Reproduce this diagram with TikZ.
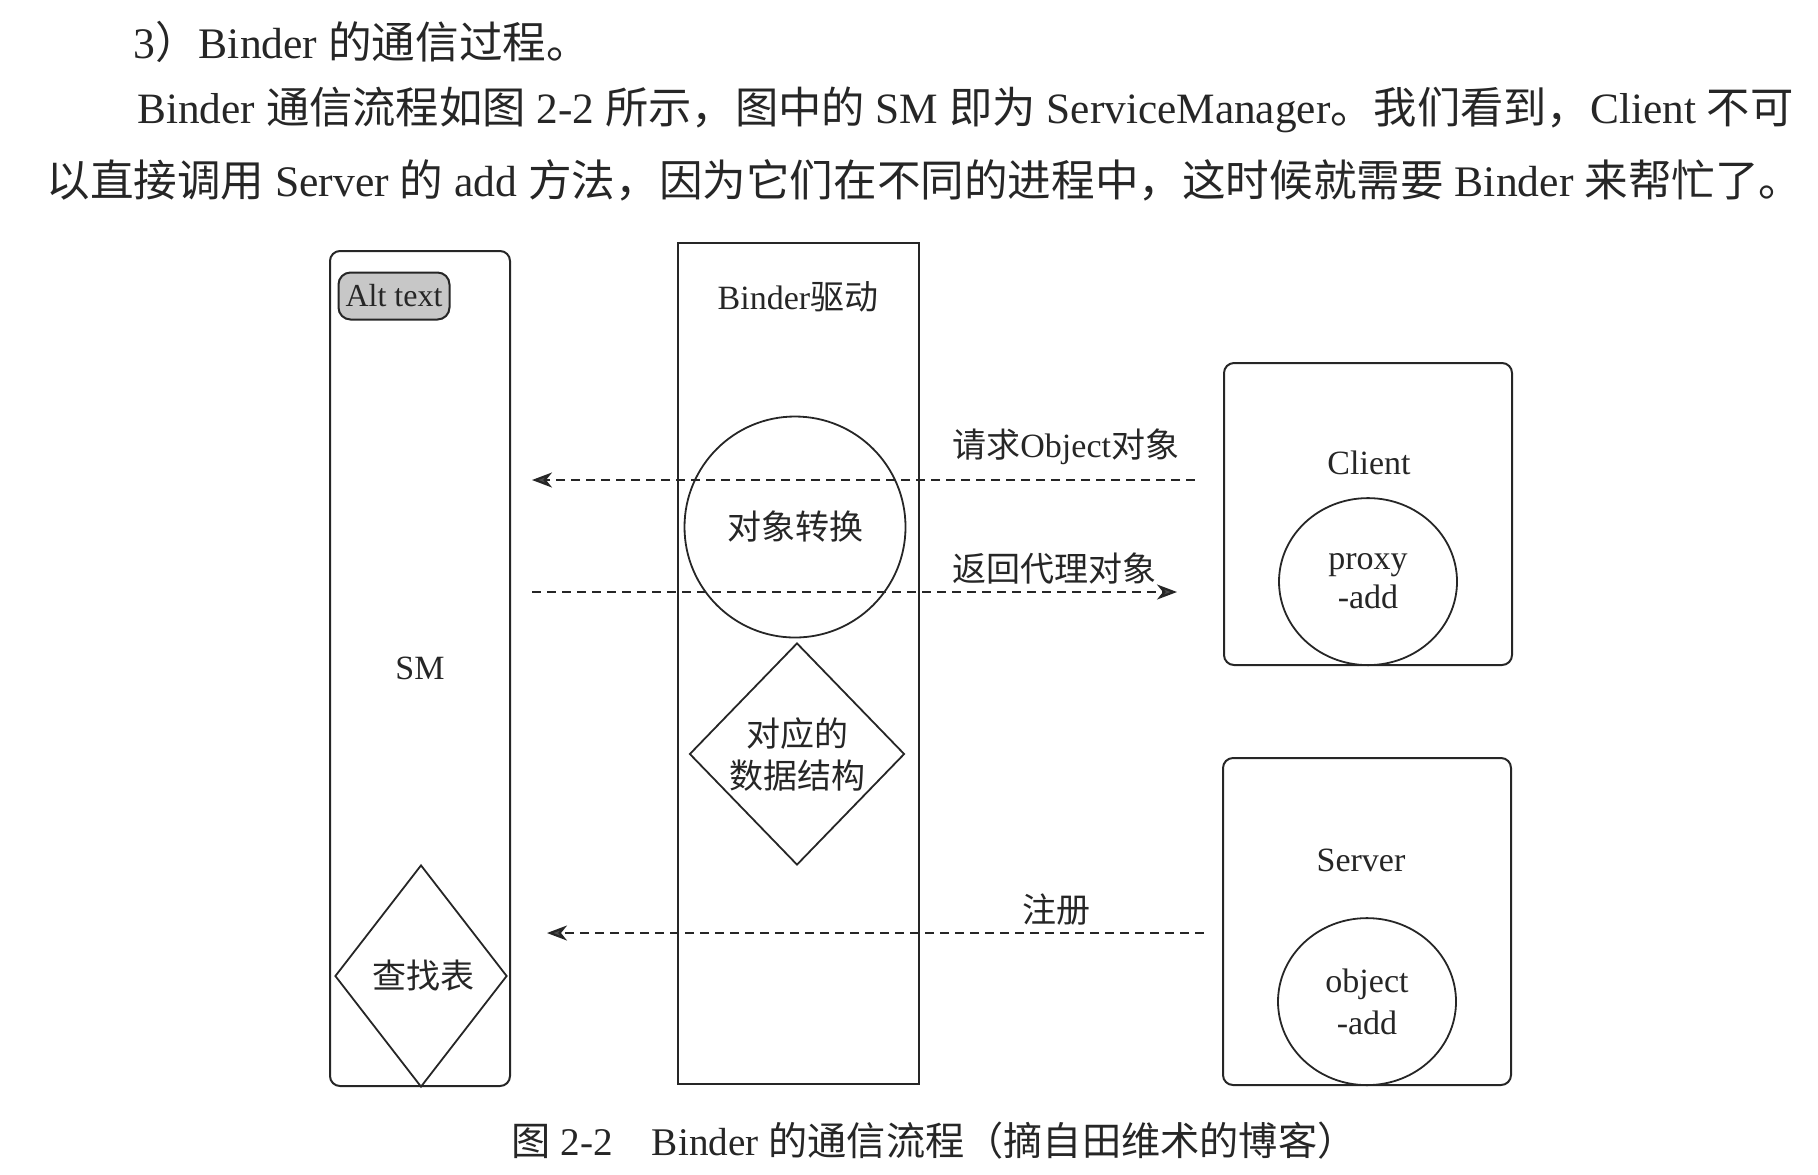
\documentclass[tikz,border=0pt]{standalone}
\usepackage{fontspec}
\setmainfont{Liberation Serif}
\newfontfamily\cjk{Noto Sans CJK SC}
\usepackage{tikz}
\usetikzlibrary{arrows.meta}
\usetikzlibrary{shapes.geometric,positioning}
\newcommand{\zh}[1]{{\cjk #1}}

\begin{document}
\begin{tikzpicture}[x=0.5pt,y=-0.5pt,
	every node/.style={text=black!85},
	body/.style={anchor=west, inner sep=0pt, font=\fontsize{21.8}{26}\selectfont},
	lane/.style={draw=black!85, line width=1pt},
	part/.style={draw=black!85, line width=0.9pt, inner sep=0pt, align=center, font=\fontsize{17}{21}\selectfont},
	lbl/.style={font=\fontsize{17}{21}\selectfont},
	flow/.style={dashed, dash pattern=on 4.5pt off 3pt, line width=1.1pt, draw=black!85,
		-{Stealth[length=10pt, width=7.5pt, inset=3pt, fill=black!70]}}]
\useasboundingbox (0,0) rectangle (1818,1174);

%text of the page
\node[body] (l1) at (133,42) {3\zh{）}Binder \zh{的通信过程。}};
\node[body, font=\fontsize{21.65}{26}\selectfont] (l2) at (137,110) {Binder \zh{通信流程如图} 2-2 \zh{所示，图中的} SM \zh{即为} ServiceManager\zh{。我们看到，}Client \zh{不可}};
\node[body] (l3) at (46,180) {\zh{以直接调用} Server \zh{的} add \zh{方法，因为它们在不同的进程中，这时候就需要} Binder \zh{来帮忙了。}};

%lanes
\node[lane, rounded corners=5pt, minimum width=90pt, minimum height=417.5pt, lbl] (sm) at (420,668.5) {SM};
\node[lane, minimum width=120.5pt, minimum height=420.5pt] (binder) at (798.5,663.5) {};
\node[lane, rounded corners=5pt, minimum width=144pt, minimum height=151pt] (client) at (1368,514) {};
\node[lane, rounded corners=5pt, minimum width=144pt, minimum height=163.5pt] (server) at (1367,921.5) {};

\node[lane, rounded corners=6pt, fill=black!22, minimum width=55.5pt, minimum height=23.5pt, inner sep=0pt, font=\fontsize{16}{19}\selectfont] (alt) at (394,296) {Alt text};
\node[lbl] (binderlbl) at (798,297) {Binder\zh{驱动}};
\node[lbl] (clientlbl) at (1369,463) {Client};
\node[lbl] (serverlbl) at (1361,860) {Server};

%inner parts
\node[part, circle, minimum size=110.5pt] (conv) at (795,527) {\zh{对象转换}};
\node[part, diamond, minimum width=107.5pt, minimum height=111pt, font=\fontsize{17}{21}\selectfont] (data) at (797,754) {\zh{对应的}\\\zh{数据结构}};
\node[part, diamond, minimum width=86pt, minimum height=111pt] (lookup) at (421,976) {\,\zh{查找表}};
\node[part, ellipse, minimum width=89pt, minimum height=83.5pt, font=\fontsize{17}{19.5}\selectfont, anchor=south, above=0pt of client.south] (proxy) {proxy\\-add};
\node[part, ellipse, minimum width=89pt, minimum height=83.5pt, font=\fontsize{17}{21}\selectfont, anchor=south, above=0pt of server.south] (object) {object\\-add};

%calls
\coordinate (reqS) at (1195,480);
\coordinate (reqE) at (532,480);
\coordinate (retS) at (532,592);
\coordinate (retE) at (1177,592);
\coordinate (regS) at (1204,933);
\coordinate (regE) at (547,933);
\draw[flow] (reqS) -- node[lbl, above=4pt, pos=0.195] {\zh{请求}Object\zh{对象}} (reqE);
\draw[flow] (retS) -- node[lbl, above, pos=0.81] {\zh{返回代理对象}} (retE);
\draw[flow] (regS) -- node[lbl, above, pos=0.224] {\zh{注册}} (regE);

\node[font=\fontsize{19.6}{23}\selectfont] (cap) at (934,1141) {\zh{图} 2-2\quad Binder \zh{的通信流程（摘自田维术的博客）}};
\end{tikzpicture}
\end{document}
